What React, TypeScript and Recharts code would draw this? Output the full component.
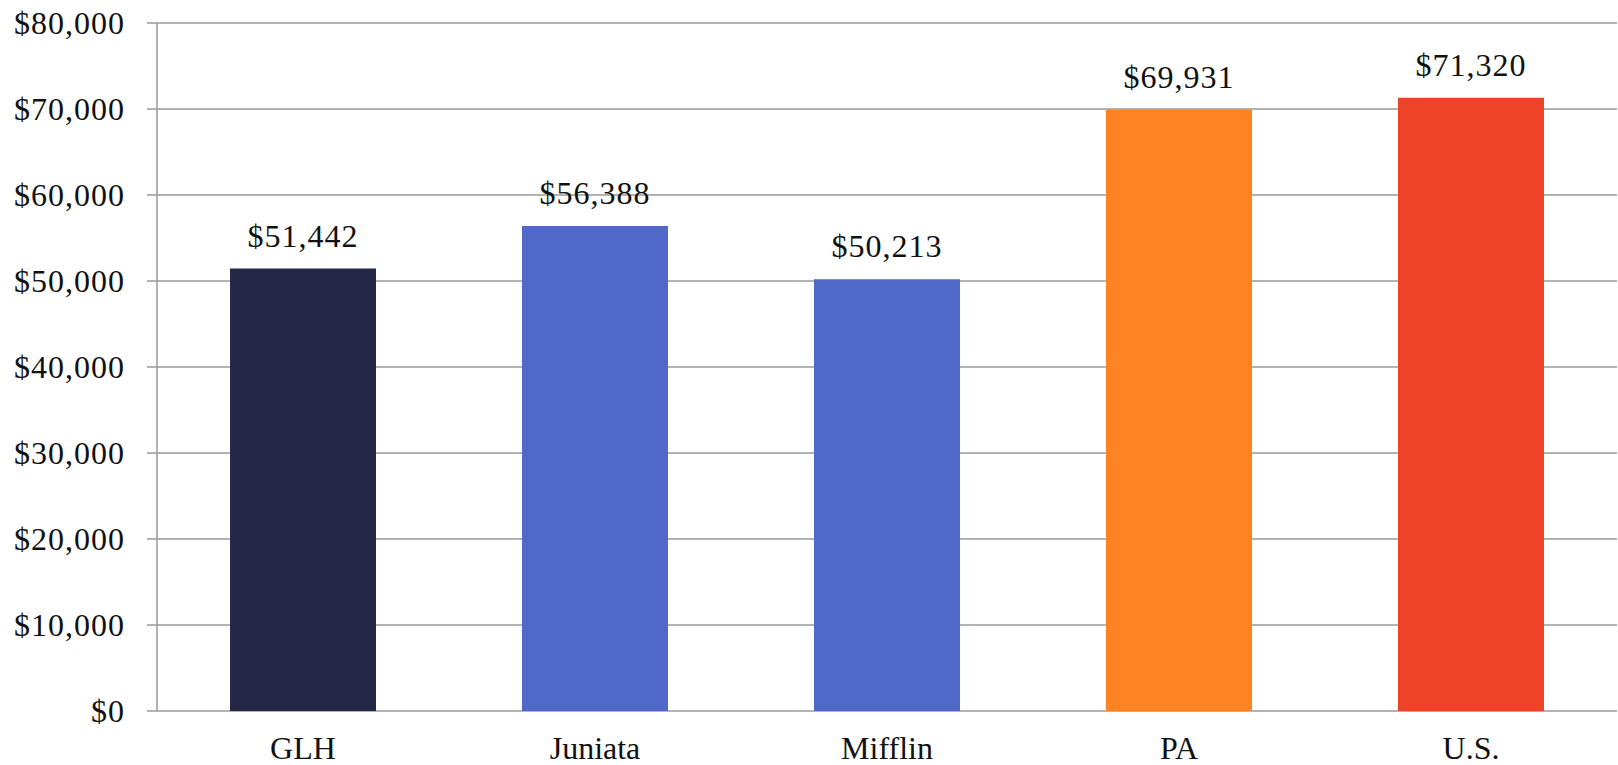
import React from 'react';
import { BarChart, Bar, XAxis, YAxis, CartesianGrid, LabelList, Cell } from 'recharts';

const categories = ['GLH', 'Juniata', 'Mifflin', 'PA', 'U.S.'];
const incomeValues = [51442, 56388, 50213, 69931, 71320];
const barColors = ['#242846', '#5069C8', '#5069C8', '#FF8321', '#EF4327'];
const yTicks = [0, 10000, 20000, 30000, 40000, 50000, 60000, 70000, 80000];
const boundaryTicks = [0, 1, 2, 3, 4, 5];

const data = categories.map((name, i) => ({ name, value: incomeValues[i], idx: i + 0.5 }));

const fmt = (v: number) => '$' + Number(v).toLocaleString('en-US');
const FONT = '"Liberation Serif", "Times New Roman", serif';

export default function App() {
  return (
    <div style={{ position: 'absolute', left: 0, top: 0, width: 1618, height: 765, background: '#fff' }}>
      <BarChart
        width={1618}
        height={765}
        data={data}
        margin={{ top: 23, right: 1, bottom: 0, left: 0 }}
        barCategoryGap="25%"
      >
        <CartesianGrid vertical={false} stroke="#9a9a9a" strokeWidth={1.5} />
        <XAxis
          xAxisId="bounds"
          type="number"
          dataKey="idx"
          domain={[0, 5]}
          ticks={boundaryTicks}
          height={0}
          axisLine={{ stroke: '#999', strokeWidth: 1.5 }}
          tickLine={{ stroke: '#999', strokeWidth: 1.5 }}
          tickSize={9}
          tickFormatter={() => ''}
          allowDataOverflow
        />
        <XAxis
          xAxisId="cat"
          dataKey="name"
          height={54}
          axisLine={false}
          tickLine={false}
          tickSize={0}
          tickMargin={25}
          interval={0}
          tick={{ fill: '#111', fontSize: 32, fontFamily: FONT }}
        />
        <YAxis
          width={157}
          domain={[0, 80000]}
          ticks={yTicks}
          tickFormatter={fmt}
          axisLine={{ stroke: '#999', strokeWidth: 1.5 }}
          tickLine={{ stroke: '#999', strokeWidth: 1.5 }}
          tickSize={10}
          tickMargin={22}
          tick={{ fill: '#111', fontSize: 32, fontFamily: FONT, letterSpacing: 1 }}
        />
        <Bar dataKey="value" xAxisId="cat" isAnimationActive={false}>
          {data.map((d, i) => (
            <Cell key={d.name} fill={barColors[i]} />
          ))}
          <LabelList
            dataKey="value"
            position="top"
            offset={22}
            formatter={fmt}
            style={{ fill: '#111', fontSize: 32, fontFamily: FONT, letterSpacing: 1 }}
          />
        </Bar>
      </BarChart>
    </div>
  );
}
